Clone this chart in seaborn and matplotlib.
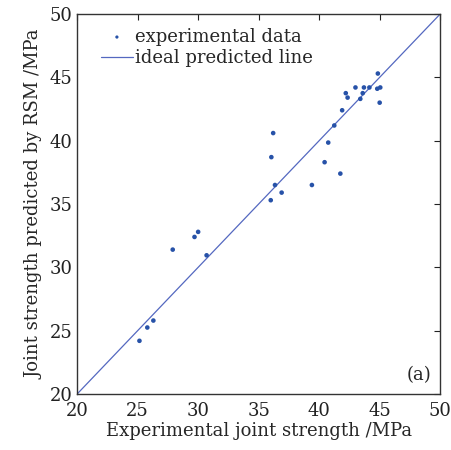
import numpy as np
import pandas as pd
import matplotlib.pyplot as plt
import seaborn as sns

# experimental vs predicted joint strength (MPa)
experimental = [25.15, 25.8, 26.3, 27.9, 29.7, 30.0, 30.7,
                36.2, 36.05, 41.25, 40.75, 40.45, 41.75, 39.4, 36.35, 36.9, 36.0,
                44.85, 42.2, 42.35, 43.0, 43.7, 43.6, 43.4, 44.15, 44.8, 45.05, 45.0, 41.9]
predicted = [24.2, 25.25, 25.8, 31.4, 32.4, 32.8, 30.95,
             40.6, 38.7, 41.2, 39.85, 38.3, 37.4, 36.5, 36.5, 35.9, 35.3,
             45.3, 43.75, 43.4, 44.2, 44.2, 43.75, 43.3, 44.2, 44.1, 44.2, 43.0, 42.4]
ideal = [20, 50]

df = pd.DataFrame({"exp": experimental, "pred": predicted})

sns.set_style("white")
plt.rcParams["font.family"] = ["DejaVu Serif"]
plt.rcParams["mathtext.fontset"] = "dejavuserif"

fig = plt.figure(figsize=(4.51, 4.5), dpi=100)
ax = fig.add_axes([0.171, 0.1244, 0.805, 0.8445])

sns.scatterplot(x="exp", y="pred", data=df, ax=ax, color="#2752a8", s=11,
                marker="o", edgecolor="none", label="experimental data", zorder=3)
sns.lineplot(x=ideal, y=ideal, ax=ax, color="#5468c0", linewidth=0.9,
             label="ideal predicted line")

ax.set_xlim(20, 50)
ax.set_ylim(20, 50)
ax.set_xticks(np.arange(20, 51, 5))
ax.set_yticks(np.arange(20, 51, 5))
ax.tick_params(direction="in", length=4, width=0.8, top=True, right=True,
               labelsize=13, colors="#222222")
ax.tick_params(axis="x", pad=6)
for s in ax.spines.values():
    s.set_color("#333333")
    s.set_linewidth(1.0)

ax.set_xlabel("Experimental joint strength /MPa", fontsize=13, labelpad=1)
ax.set_ylabel("Joint strength predicted by RSM /MPa", fontsize=13, labelpad=4)
ax.text(0.975, 0.025, "(a)", transform=ax.transAxes, ha="right", va="bottom",
        fontsize=13)

ax.legend(loc="upper left", frameon=False, fontsize=13, handlelength=1.8,
          handletextpad=0.1, borderaxespad=0.3, labelspacing=0.2,
          markerscale=0.7, bbox_to_anchor=(0.03, 0.997))

plt.savefig("out.png", dpi=100)
